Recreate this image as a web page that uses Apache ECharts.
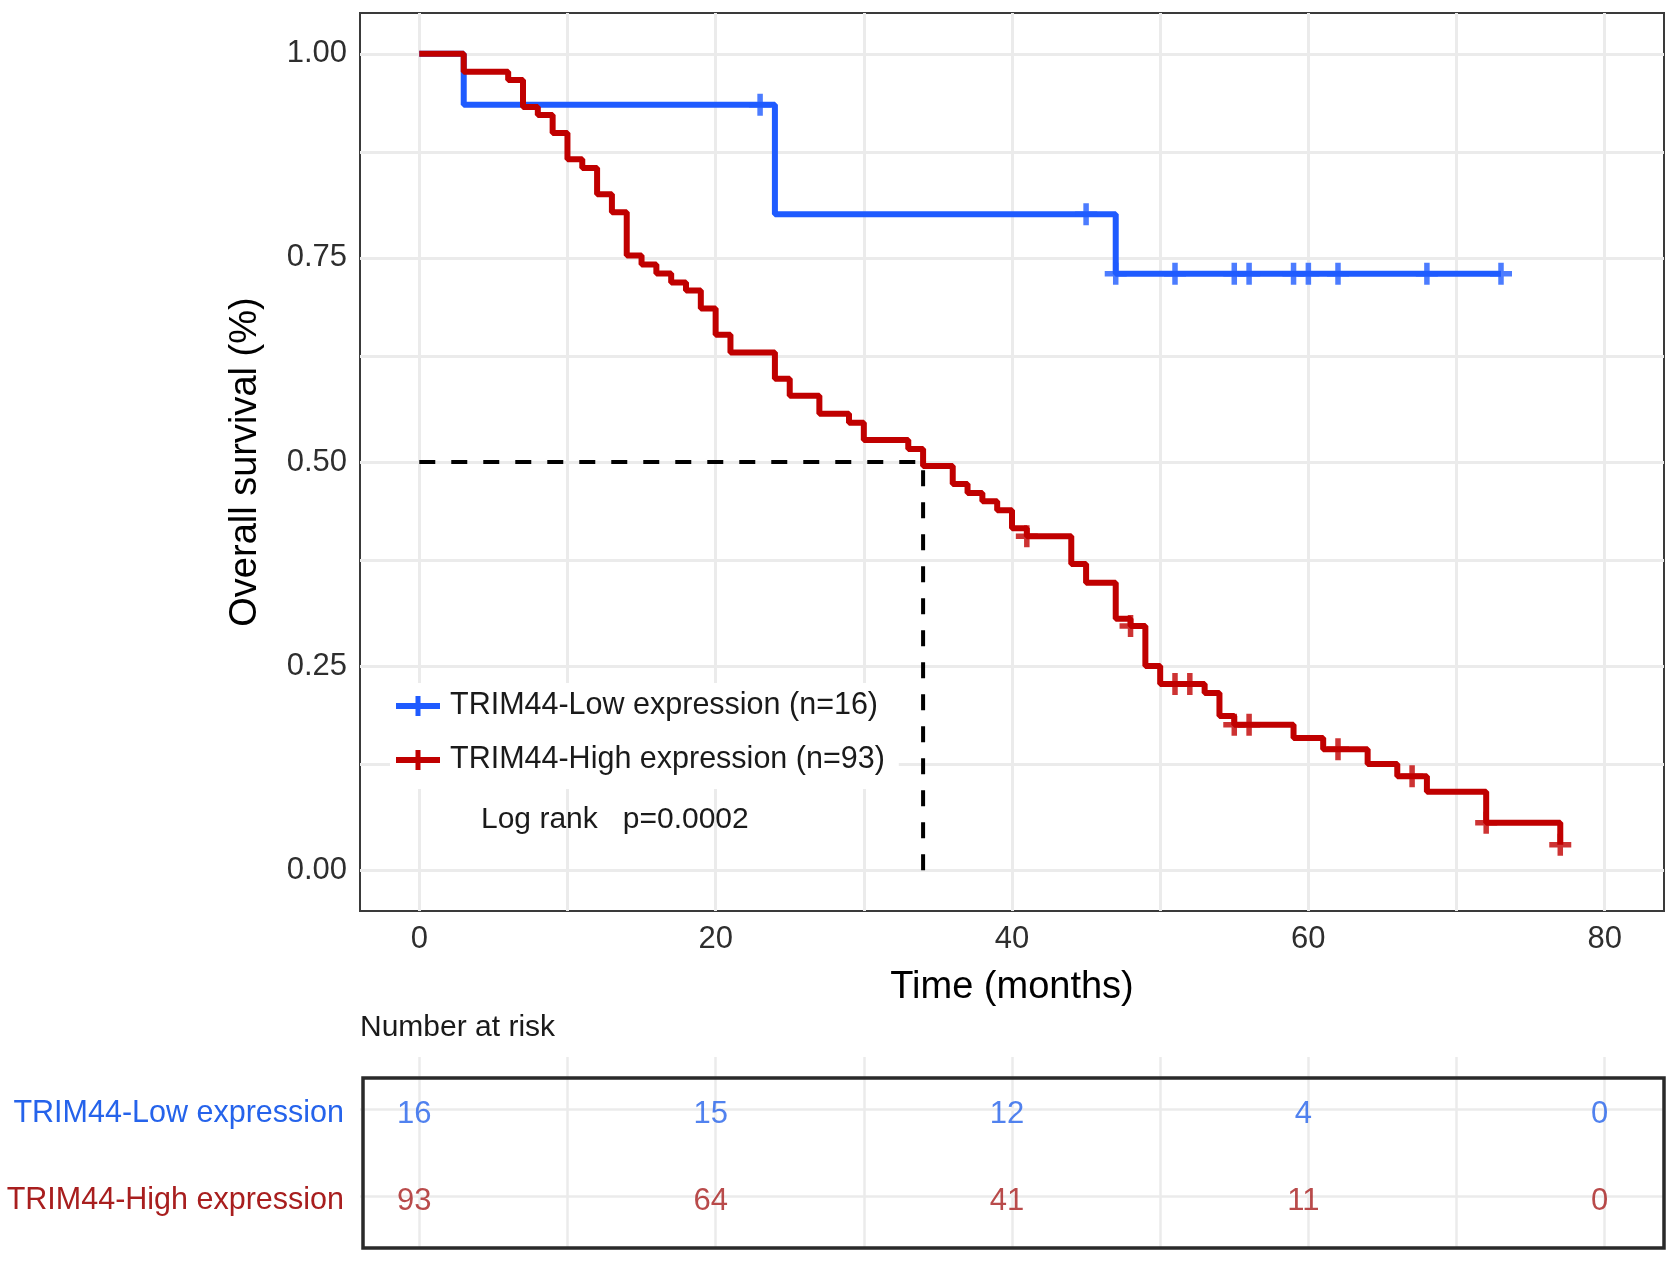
<!DOCTYPE html>
<html>
<head>
<meta charset="utf-8">
<script src="https://cdn.jsdelivr.net/npm/echarts@6/dist/echarts.min.js"></script>
<style>
  html, body { margin: 0; padding: 0; background: #ffffff; }
  #chart { width: 1677px; height: 1263px; }
</style>
</head>
<body>
<div id="chart"></div>
<script>
// ---------------- data ----------------
const timeTicks = [0, 20, 40, 60, 80];
const timeGrid = [0, 10, 20, 30, 40, 50, 60, 70, 80];
const survTicks = [0, 0.25, 0.5, 0.75, 1];
const survGrid = [0, 0.125, 0.25, 0.375, 0.5, 0.625, 0.75, 0.875, 1];

const lowName = 'TRIM44-Low expression (n=16)';
const highName = 'TRIM44-High expression (n=93)';
const lowRowLabel = 'TRIM44-Low expression';
const highRowLabel = 'TRIM44-High expression';

const lowTimes = [0, 3, 24, 47, 73];
const lowSurv = [1, 0.9375, 0.8036, 0.7305, 0.7305];
const lowCensorTimes = [23, 45, 47, 51, 55, 56, 59, 60, 62, 68, 73];

const highTimes = [0, 3, 6, 7, 8, 9, 10, 11, 12, 13, 14, 15, 16, 17, 18, 19, 20, 21, 24, 25,
  27, 29, 30, 33, 34, 36, 37, 38, 39, 40, 41, 44, 45, 47, 48, 49, 50, 53, 54, 55,
  59, 61, 64, 66, 68, 72, 77];
const highSurv = [1, 0.978, 0.968, 0.935, 0.925, 0.903, 0.871, 0.860, 0.828, 0.806,
  0.753, 0.742, 0.731, 0.720, 0.710, 0.688, 0.656, 0.634, 0.602, 0.581,
  0.559, 0.548, 0.527, 0.516, 0.495, 0.473, 0.462, 0.452, 0.441, 0.419,
  0.409, 0.375, 0.352, 0.308, 0.299, 0.250, 0.228, 0.217, 0.189, 0.178,
  0.162, 0.148, 0.130, 0.115, 0.096, 0.058, 0.031];
const highCensorTimes = [41, 48, 51, 52, 55, 56, 62, 67, 72, 77];

const medianTime = 34;
const medianSurv = 0.5;

const riskTimes = [0, 20, 40, 60, 80];
const riskLow = [16, 15, 12, 4, 0];
const riskHigh = [93, 64, 41, 11, 0];
const riskRows = [2, 1]; // low row, high row

const pValueText = 'Log rank   p=0.0002';

// ---------------- helpers ----------------
function stepValue(times, surv, t) {
  let v = surv[0];
  for (let i = 0; i < times.length; i++) { if (times[i] <= t) v = surv[i]; }
  return v;
}
const pairs = (xs, ys) => xs.map((x, i) => [x, ys[i]]);

const BLUE = '#1F5BFF';
const RED = '#C00000';
const BLUE_TXT = '#2563EB';
const RED_TXT = '#A81E1E';
const FONT = '"Liberation Sans", Arial, Helvetica, sans-serif';
const PLUS = 'path://M7.5,0H12.5V7.5H20V12.5H12.5V20H7.5V12.5H0V7.5H7.5Z';
const LEGEND_ICON = 'path://M0,7H44V13H0Z M19.5,0H24.5V20H19.5Z';

const gridLineStyle = { color: '#EBEBEB', width: 3, type: 'solid' };

const chart = echarts.init(document.getElementById('chart'), null, { renderer: 'canvas' });

const option = {
  animation: false,
  backgroundColor: '#ffffff',
  textStyle: { fontFamily: FONT },
  grid: [
    { left: 360, right: 13, top: 13, bottom: 352, show: true, borderColor: '#3a3a3a', borderWidth: 2, backgroundColor: 'transparent' },
    { left: 360, right: 13, top: 1057, bottom: 15 }
  ],
  legend: {
    orient: 'vertical',
    left: 390,
    top: 683,
    padding: [6, 14, 12, 6],
    backgroundColor: '#ffffff',
    z: 10,
    itemWidth: 44,
    itemHeight: 20,
    itemGap: 20,
    icon: LEGEND_ICON,
    textStyle: { fontSize: 30.5, color: '#1a1a1a', fontFamily: FONT, lineHeight: 34, padding: [0, 0, 0, 5] },
    data: [lowName, highName]
  },
  xAxis: [
    {
      gridIndex: 0, type: 'value', min: -4, max: 84,
      axisLine: { show: false },
      axisTick: { show: true, customValues: timeTicks, length: 8, lineStyle: { color: '#333', width: 2.5 } },
      axisLabel: { customValues: timeTicks, fontSize: 31, color: '#2e2e2e', margin: 13 },
      splitLine: { show: false },
      name: 'Time (months)', nameLocation: 'middle', nameGap: 58,
      nameTextStyle: { fontSize: 38, color: '#000' }
    },
    {
      gridIndex: 1, type: 'value', min: -4, max: 84, show: false
    }
  ],
  yAxis: [
    {
      gridIndex: 0, type: 'value', min: -0.05, max: 1.05,
      axisLine: { show: false },
      axisTick: { show: true, customValues: survTicks, length: 8, lineStyle: { color: '#333', width: 2.5 } },
      axisLabel: { customValues: survTicks, fontSize: 31, color: '#2e2e2e', margin: 13, formatter: v => Number(v).toFixed(2) },
      splitLine: { show: false },
      name: 'Overall survival (%)', nameLocation: 'middle', nameGap: 95, nameRotate: 90,
      nameTextStyle: { fontSize: 38, color: '#000' }
    },
    {
      gridIndex: 1, type: 'value', min: 0.4, max: 2.6,
      axisLine: { show: false },
      axisTick: { show: false },
      splitLine: { show: false },
      axisLabel: {
        customValues: riskRows, margin: 16,
        formatter: v => (Number(v) === 2 ? '{low|' + lowRowLabel + '}' : '{high|' + highRowLabel + '}'),
        rich: {
          low: { fontSize: 30.5, color: BLUE_TXT, fontFamily: FONT, padding: [9, 0, 0, 0] },
          high: { fontSize: 30.5, color: RED_TXT, fontFamily: FONT, padding: [9, 0, 0, 0] }
        }
      }
    }
  ],
  graphic: [
    { type: 'text', left: 481, top: 805, silent: true, z: 20,
      style: { text: pValueText, fontSize: 30, fontFamily: FONT, fill: '#1a1a1a' } },
    { type: 'text', left: 360, top: 1013, silent: true,
      style: { text: 'Number at risk', fontSize: 30, fontFamily: FONT, fill: '#1a1a1a' } },
    { type: 'rect', z: 100, silent: true,
      shape: { x: 363, y: 1078, width: 1301, height: 170 },
      style: { fill: 'none', stroke: '#2a2a2a', lineWidth: 3.5 } }
  ],
  series: [
    // background grid lines of survival panel
    {
      type: 'line', xAxisIndex: 0, yAxisIndex: 0, data: [], z: 1, silent: true,
      markLine: {
        silent: true, symbol: 'none', animation: false, label: { show: false },
        lineStyle: gridLineStyle,
        data: timeGrid.map(v => ({ xAxis: v })).concat(survGrid.map(v => ({ yAxis: v })))
      }
    },
    // background grid lines of risk table
    {
      type: 'line', xAxisIndex: 1, yAxisIndex: 1, data: [], z: 1, silent: true,
      markLine: {
        silent: true, symbol: 'none', animation: false, label: { show: false },
        lineStyle: { color: '#EBEBEB', width: 2.5, type: 'solid' },
        data: timeGrid.map(v => ({ xAxis: v })).concat(riskRows.map(v => ({ yAxis: v })))
      }
    },
    {
      name: lowName, type: 'line', step: 'end', xAxisIndex: 0, yAxisIndex: 0,
      data: pairs(lowTimes, lowSurv), showSymbol: false, z: 5,
      color: BLUE, lineStyle: { color: BLUE, width: 6 }
    },
    {
      name: highName, type: 'line', step: 'end', xAxisIndex: 0, yAxisIndex: 0,
      data: pairs(highTimes, highSurv), showSymbol: false, z: 5,
      color: RED, lineStyle: { color: RED, width: 6 }
    },
    {
      name: 'low-censor', type: 'scatter', xAxisIndex: 0, yAxisIndex: 0, z: 6,
      symbol: PLUS, symbolSize: [22, 22], itemStyle: { color: BLUE },
      data: lowCensorTimes.map(t => [t, stepValue(lowTimes, lowSurv, t)])
    },
    {
      name: 'high-censor', type: 'scatter', xAxisIndex: 0, yAxisIndex: 0, z: 6,
      symbol: PLUS, symbolSize: [22, 22], itemStyle: { color: RED },
      data: highCensorTimes.map(t => [t, stepValue(highTimes, highSurv, t)])
    },
    {
      name: 'median', type: 'line', xAxisIndex: 0, yAxisIndex: 0, z: 7,
      data: [[0, medianSurv], [medianTime, medianSurv], [medianTime, 0]],
      showSymbol: false, lineStyle: { color: '#000', width: 4, type: [16, 16] }
    },
    {
      name: 'risk-low', type: 'scatter', xAxisIndex: 1, yAxisIndex: 1, z: 8,
      symbolSize: 1, itemStyle: { color: 'rgba(0,0,0,0)' },
      label: { show: true, position: 'inside', formatter: p => String(p.value[2]), fontSize: 31, color: BLUE_TXT, fontFamily: FONT, offset: [-5, 5] },
      data: riskTimes.map((t, i) => [t, riskRows[0], riskLow[i]])
    },
    {
      name: 'risk-high', type: 'scatter', xAxisIndex: 1, yAxisIndex: 1, z: 8,
      symbolSize: 1, itemStyle: { color: 'rgba(0,0,0,0)' },
      label: { show: true, position: 'inside', formatter: p => String(p.value[2]), fontSize: 31, color: RED_TXT, fontFamily: FONT, offset: [-5, 6] },
      data: riskTimes.map((t, i) => [t, riskRows[1], riskHigh[i]])
    }
  ]
};

chart.setOption(option);
</script>
</body>
</html>
